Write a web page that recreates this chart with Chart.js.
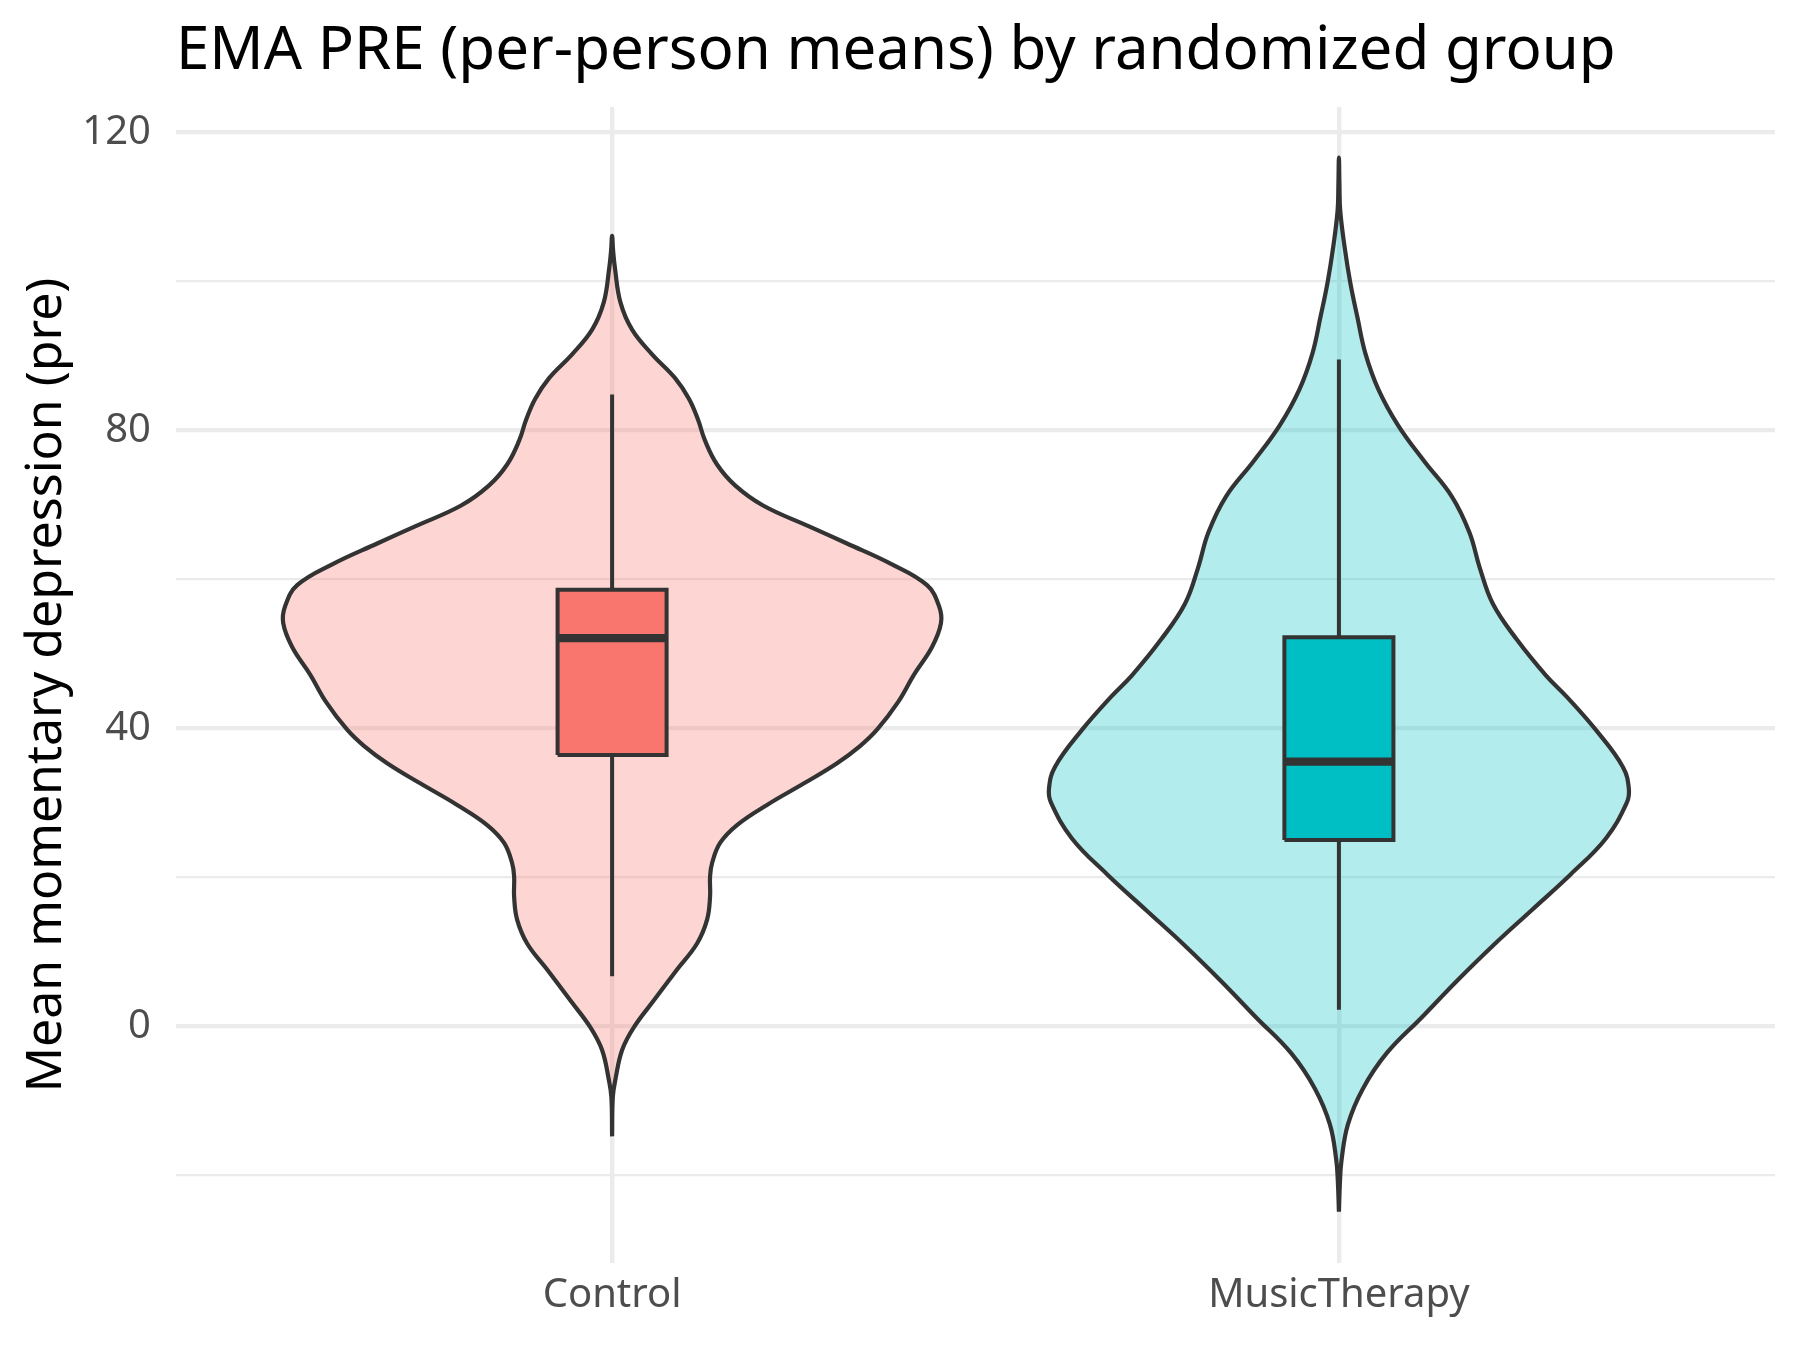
<!DOCTYPE html>
<html>
<head>
<meta charset="utf-8">
<script src="https://cdn.jsdelivr.net/npm/chart.js@4.4.1/dist/chart.umd.min.js"></script>
<style>
  html, body { margin: 0; padding: 0; background: #ffffff; }
  #wrap { width: 1800px; height: 1350px; position: relative; }
</style>
</head>
<body>
<div id="wrap"><canvas id="chart"></canvas></div>
<script>
// ---------------- data ----------------
const chartTitle = 'EMA PRE (per-person means) by randomized group';
const yAxisTitle = 'Mean momentary depression (pre)';
const categories = ['Control', 'MusicTherapy'];
const yGridValues = [-20, 0, 20, 40, 60, 80, 100, 120];
const yTickLabels = [0, 40, 80, 120];

// Violin outline: y value and half-width (in category units) along the outline
const controlViolinY = [-14.8, -9.5, -7.2, -3.2, -0.1, 3.5, 7.6, 11.1, 14.3, 17.4, 20.1, 21.9, 24.6, 27.0, 29.7, 32.6, 35.3, 37.6, 39.8, 43.5, 47.2, 50.9, 54.1, 56.4, 59.2, 62.0, 64.8, 67.1, 69.9, 72.6, 75.4, 78.6, 81.4, 84.2, 87.0, 90.2, 93.5, 97.2, 101.8, 104.1, 106.1];
const controlViolinHalfWidth = [0, 0.0010, 0.0045, 0.0138, 0.0303, 0.0578, 0.0894, 0.1169, 0.1307, 0.1348, 0.1348, 0.1376, 0.1486, 0.1719, 0.2132, 0.2641, 0.3095, 0.3411, 0.3645, 0.3934, 0.4154, 0.4402, 0.4525, 0.4498, 0.4333, 0.3851, 0.3232, 0.2710, 0.2077, 0.1692, 0.1444, 0.1279, 0.1183, 0.1059, 0.0867, 0.0550, 0.0275, 0.0114, 0.0039, 0.0014, 0];

const musicViolinY = [-24.9, -21.0, -18.0, -13.2, -8.4, -3.6, 1.2, 6.0, 10.8, 15.6, 20.4, 25.2, 30.0, 31.9, 34.8, 39.6, 44.2, 47.1, 51.9, 56.7, 61.5, 66.3, 71.1, 75.9, 80.7, 85.5, 90.3, 95.1, 99.9, 104.7, 109.5, 113.0, 116.6];
const musicViolinHalfWidth = [0, 0.0014, 0.0036, 0.0124, 0.0330, 0.0660, 0.1142, 0.1616, 0.2118, 0.2655, 0.3191, 0.3673, 0.3961, 0.3989, 0.3907, 0.3549, 0.3136, 0.2847, 0.2448, 0.2118, 0.1939, 0.1795, 0.1554, 0.1169, 0.0812, 0.0543, 0.0365, 0.0256, 0.0155, 0.0077, 0.0018, 0.0007, 0];

// Box plot statistics per category
const whiskerLow  = [6.7, 2.2];
const q1          = [36.4, 25.0];
const medians     = [52.1, 35.5];
const q3          = [58.6, 52.2];
const whiskerHigh = [84.8, 89.5];

// ---------------- styling ----------------
const FONT = 'Noto Sans';
const violinFill = ['rgba(248,118,109,0.3)', 'rgba(0,191,196,0.3)'];
const boxFill = ['#F8766D', '#00BFC4'];
const INK = '#333333';
const BOX_HALF = 0.075;

function violinPoints(center, ys, hws) {
  const pts = [];
  for (let i = 0; i < ys.length; i++) pts.push({x: center - hws[i], y: ys[i]});
  for (let i = ys.length - 2; i >= 0; i--) pts.push({x: center + hws[i], y: ys[i]});
  return pts;
}

const violins = [
  [controlViolinY, controlViolinHalfWidth],
  [musicViolinY, musicViolinHalfWidth]
];

const datasets = [];
categories.forEach((cat, i) => {
  const c = i + 1;
  datasets.push({
    label: cat + ' violin',
    data: violinPoints(c, violins[i][0], violins[i][1]),
    backgroundColor: violinFill[i],
    borderColor: INK,
    borderWidth: 4.2,
    fill: 'shape',
    tension: 0.4,
    pointRadius: 0,
    order: 10
  });
  datasets.push({
    label: cat + ' whisker low',
    data: [{x: c, y: whiskerLow[i]}, {x: c, y: q1[i]}],
    borderColor: INK, borderWidth: 4.0, pointRadius: 0, fill: false, tension: 0, order: 6
  });
  datasets.push({
    label: cat + ' whisker high',
    data: [{x: c, y: q3[i]}, {x: c, y: whiskerHigh[i]}],
    borderColor: INK, borderWidth: 4.0, pointRadius: 0, fill: false, tension: 0, order: 6
  });
  datasets.push({
    label: cat + ' box',
    data: [
      {x: c - BOX_HALF, y: q1[i]}, {x: c - BOX_HALF, y: q3[i]},
      {x: c + BOX_HALF, y: q3[i]}, {x: c + BOX_HALF, y: q1[i]},
      {x: c - BOX_HALF, y: q1[i]}
    ],
    backgroundColor: boxFill[i],
    borderColor: INK, borderWidth: 4.0, borderJoinStyle: 'miter',
    fill: 'shape', pointRadius: 0, tension: 0, order: 4
  });
  datasets.push({
    label: cat + ' median',
    data: [{x: c - BOX_HALF, y: medians[i]}, {x: c + BOX_HALF, y: medians[i]}],
    borderColor: INK, borderWidth: 8.2, pointRadius: 0, fill: false, tension: 0, order: 1
  });
});

const titlePlugin = {
  id: 'plotTitle',
  afterDraw(chart) {
    const ctx = chart.ctx;
    ctx.save();
    ctx.font = '60px "' + FONT + '"';
    ctx.fillStyle = '#000000';
    ctx.textAlign = 'left';
    ctx.textBaseline = 'alphabetic';
    ctx.fillText(chartTitle, chart.chartArea.left, 69);
    ctx.restore();
  }
};

new Chart(document.getElementById('chart'), {
  type: 'line',
  data: { datasets },
  plugins: [titlePlugin],
  options: {
    responsive: true,
    maintainAspectRatio: false,
    animation: false,
    devicePixelRatio: 1,
    layout: { padding: { top: 107, right: 25, left: 0, bottom: 0 } },
    plugins: {
      legend: { display: false },
      tooltip: { enabled: false },
      title: { display: false }
    },
    elements: { point: { radius: 0, hoverRadius: 0 } },
    scales: {
      x: {
        type: 'linear',
        min: 0.4, max: 2.6,
        afterBuildTicks: (axis) => { axis.ticks = categories.map((c, i) => ({value: i + 1})); },
        afterFit: (s) => { s.height = 87; },
        ticks: {
          callback: (v) => categories[Math.round(v) - 1] || '',
          font: { family: FONT, size: 40 },
          color: '#4D4D4D',
          padding: 9,
          autoSkip: false,
          maxRotation: 0
        },
        grid: { color: '#EBEBEB', lineWidth: 4.4, drawTicks: false },
        border: { display: false }
      },
      y: {
        type: 'linear',
        min: -31.8, max: 123.4,
        afterBuildTicks: (axis) => { axis.ticks = yGridValues.map(v => ({value: v})); },
        afterFit: (s) => { s.width = 176; },
        ticks: {
          callback: (v) => yTickLabels.includes(v) ? String(v) : '',
          font: { family: FONT, size: 40 },
          color: '#4D4D4D',
          padding: 25,
          autoSkip: false
        },
        grid: {
          color: '#EBEBEB',
          lineWidth: (ctx) => (ctx.tick && yTickLabels.includes(ctx.tick.value)) ? 4.3 : 2.2,
          drawTicks: false
        },
        border: { display: false },
        title: {
          display: true,
          text: yAxisTitle,
          font: { family: FONT, size: 50 },
          color: '#000000',
          padding: { top: 17, bottom: 0 }
        }
      }
    }
  }
});
</script>
</body>
</html>
